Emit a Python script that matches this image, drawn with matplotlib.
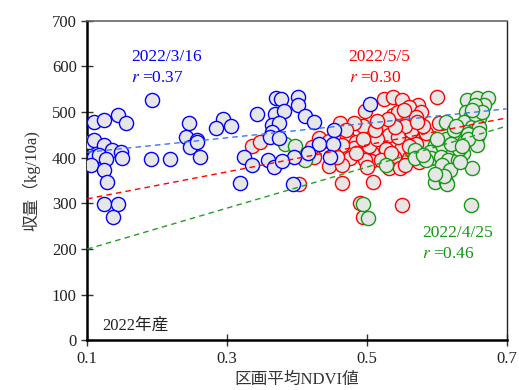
import numpy as np
import matplotlib
matplotlib.use("Agg")
import matplotlib.pyplot as plt

plt.rcParams['font.family'] = ['Liberation Serif', 'Noto Sans CJK JP']
plt.rcParams['mathtext.fontset'] = 'stix'

# 2022/3/16 (blue)
blue_x = [0.193, 0.110, 0.124, 0.144, 0.155, 0.102, 0.110, 0.124, 0.136, 0.149,
          0.110, 0.117, 0.127, 0.150, 0.105, 0.124, 0.129, 0.124, 0.144, 0.137,
          0.192, 0.219, 0.245, 0.241, 0.247, 0.257, 0.257, 0.261, 0.294, 0.285,
          0.306, 0.370, 0.377, 0.401, 0.402, 0.343, 0.369, 0.381, 0.412, 0.425,
          0.365, 0.375, 0.364, 0.361, 0.375, 0.453, 0.432, 0.451, 0.416, 0.396,
          0.448, 0.324, 0.336, 0.359, 0.367, 0.379, 0.319, 0.394, 0.505]
blue_y = [526, 479, 483, 493, 475, 434, 439, 427, 416, 412,
          401, 406, 398, 399, 385, 374, 347, 299, 298, 270,
          397, 398, 475, 445, 423, 439, 434, 402, 485, 464,
          470, 531, 528, 532, 515, 495, 495, 502, 492, 479,
          471, 475, 457, 445, 444, 460, 429, 429, 410, 401,
          402, 401, 385, 394, 379, 393, 345, 342, 517]

# 2022/5/5 (red)
red_x = [0.600, 0.525, 0.538, 0.550, 0.574, 0.560, 0.578, 0.498, 0.494, 0.538,
         0.567, 0.557, 0.525, 0.603, 0.568, 0.565, 0.551, 0.581, 0.549, 0.508,
         0.539, 0.561, 0.506, 0.532, 0.547, 0.509, 0.551, 0.462, 0.482, 0.472,
         0.432, 0.446, 0.484, 0.482, 0.465, 0.476, 0.503, 0.446, 0.465, 0.458,
         0.425, 0.336, 0.347, 0.403, 0.465, 0.410, 0.498, 0.490, 0.494, 0.422,
         0.564, 0.555, 0.571, 0.545, 0.532, 0.515, 0.528, 0.545, 0.570, 0.585,
         0.590, 0.520, 0.555, 0.575, 0.485, 0.495, 0.512, 0.540, 0.470, 0.580,
         0.500, 0.535, 0.565, 0.553, 0.530, 0.572, 0.515, 0.560]
red_y = [532, 528, 532, 526, 515, 511, 500, 502, 470, 493,
         486, 481, 464, 475, 464, 446, 439, 429, 420, 410,
         402, 399, 393, 378, 377, 347, 296, 476, 475, 446,
         444, 436, 435, 422, 428, 400, 425, 382, 385, 402,
         402, 425, 434, 342, 345, 397, 395, 300, 271, 424,
         458, 470, 490, 500, 450, 440, 420, 445, 430, 455,
         410, 395, 385, 390, 410, 440, 460, 468, 460, 470,
         380, 410, 415, 505, 485, 478, 480, 425]

# 2022/4/25 (green)
green_x = [0.644, 0.658, 0.674, 0.668, 0.655, 0.642, 0.648, 0.661, 0.614, 0.639,
           0.651, 0.661, 0.642, 0.658, 0.613, 0.627, 0.639, 0.658, 0.598, 0.608,
           0.623, 0.637, 0.590, 0.569, 0.569, 0.592, 0.606, 0.616, 0.630, 0.607,
           0.619, 0.651, 0.527, 0.598, 0.614, 0.615, 0.649, 0.494, 0.502, 0.383,
           0.398, 0.412, 0.632, 0.645, 0.625, 0.600, 0.585, 0.610, 0.620, 0.655,
           0.665, 0.634, 0.580, 0.645, 0.660, 0.628, 0.598, 0.650, 0.636]
green_y = [526, 530, 531, 515, 515, 500, 486, 486, 479, 479,
           468, 468, 457, 446, 442, 441, 435, 428, 428, 419,
           410, 410, 413, 417, 399, 400, 402, 395, 395, 384,
           373, 378, 385, 346, 347, 342, 296, 299, 269, 431,
           425, 396, 420, 452, 460, 440, 395, 360, 430, 495,
           500, 390, 405, 440, 455, 470, 365, 505, 425]

# regression lines (value at x=0.1 and x=0.7)
fit_x = [0.1, 0.7]
blue_fit = [412, 507]
red_fit = [310, 487]
green_fit = [200, 469]

fill = '#e6e6e6'
c_blue, c_red, c_green = '#0000ff', '#ff0000', '#119911'

fig = plt.figure(figsize=(5.19, 3.90), dpi=100)
ax = fig.add_axes([0.168, 0.127, 0.808, 0.820])

ms = 104
ax.scatter(red_x, red_y, s=ms, facecolor=fill, edgecolor=c_red, linewidth=1.0, zorder=2)
ax.scatter(green_x, green_y, s=ms, facecolor=fill, edgecolor=c_green, linewidth=1.0, zorder=3)
ax.scatter(blue_x, blue_y, s=ms, facecolor=fill, edgecolor=c_blue, linewidth=1.0, zorder=4)

ax.plot(fit_x, blue_fit, ls=(0, (4, 3)), color='#3a78e8', lw=1.0, zorder=5)
ax.plot(fit_x, red_fit, ls=(0, (4, 3)), color=c_red, lw=1.0, zorder=5)
ax.plot(fit_x, green_fit, ls=(0, (4, 3)), color='#22a022', lw=1.0, zorder=5)

ax.set_xlim(0.1, 0.7)
ax.set_ylim(0, 700)
ax.set_xticks([0.1, 0.3, 0.5, 0.7])
ax.set_xticklabels(['0.1', '0.3', '0.5', '0.7'])
ax.set_yticks(range(0, 701, 100))
ax.tick_params(direction='inout', length=8, width=1, labelsize=12, colors='#333333',
               labelcolor='#222222')

for s in ['left', 'bottom']:
    ax.spines[s].set_linewidth(1.8)
    ax.spines[s].set_color('black')
ax.spines['top'].set_color('#666666')
ax.spines['top'].set_linewidth(1.2)
ax.spines['right'].set_color('#222222')
ax.spines['right'].set_linewidth(1.0)

ax.set_xlabel('区画平均NDVI値', fontsize=12, color='#333333', labelpad=4)
ax.set_ylabel('収量（kg/10a)', fontsize=12, color='#333333', labelpad=8)

fs = 12.5
ax.text(0.1625, 620, '2022/3/16', color=c_blue, fontsize=fs, va='center')
ax.text(0.1625, 574, '$r$ =0.37', color=c_blue, fontsize=fs, va='center')
ax.text(0.474, 620, '2022/5/5', color=c_red, fontsize=fs, va='center')
ax.text(0.474, 574, '$r$ =0.30', color=c_red, fontsize=fs, va='center')
ax.text(0.579, 235, '2022/4/25', color=c_green, fontsize=fs, va='center')
ax.text(0.579, 189, '$r$ =0.46', color=c_green, fontsize=fs, va='center')
ax.text(0.122, 33, '2022年産', color='#222222', fontsize=12, va='center')

fig.savefig('out.png', dpi=100)
